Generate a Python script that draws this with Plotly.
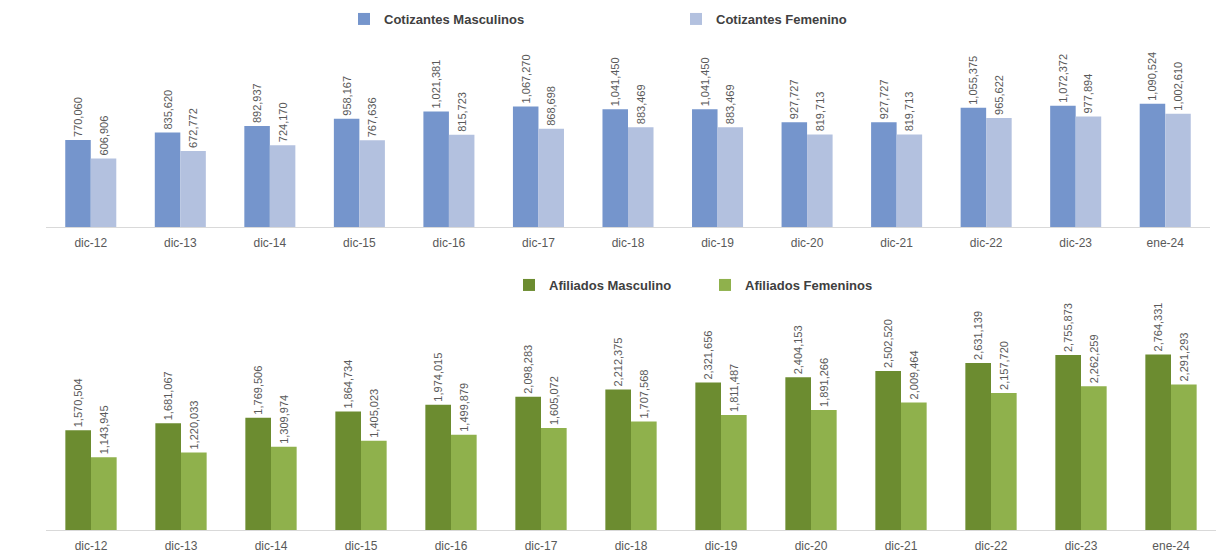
import plotly.graph_objects as go

categories = ["dic-12", "dic-13", "dic-14", "dic-15", "dic-16", "dic-17", "dic-18",
              "dic-19", "dic-20", "dic-21", "dic-22", "dic-23", "ene-24"]

cotizantes_masculinos = [770060, 835620, 892937, 958167, 1021381, 1067270, 1041450,
                         1041450, 927727, 927727, 1055375, 1072372, 1090524]
cotizantes_femenino = [606906, 672772, 724170, 767636, 815723, 868698, 883469,
                       883469, 819713, 819713, 965622, 977894, 1002610]

afiliados_masculino = [1570504, 1681067, 1769506, 1864734, 1974015, 2098283, 2212375,
                       2321656, 2404153, 2502520, 2631139, 2755873, 2764331]
afiliados_femeninos = [1143945, 1220033, 1309974, 1405023, 1499879, 1605072, 1707568,
                       1811487, 1891266, 2009464, 2157720, 2262259, 2291293]

W, H = 1231, 555
FONT = "Liberation Sans, Arial, sans-serif"
LBL = "#595959"


def px_x(px):
    return px / W


def px_y(py):
    return 1 - py / H


def fmt(v):
    return f"{v:,}"


fig = go.Figure()

series = [
    ("Cotizantes Masculinos", cotizantes_masculinos, "#7595CC", "x", "y", "legend"),
    ("Cotizantes Femenino", cotizantes_femenino, "#B3C1DF", "x", "y", "legend2"),
    ("Afiliados Masculino", afiliados_masculino, "#6C8C30", "x2", "y2", "legend3"),
    ("Afiliados Femeninos", afiliados_femeninos, "#8FB14C", "x2", "y2", "legend4"),
]

for name, vals, color, xa, ya, lg in series:
    fig.add_trace(go.Bar(
        name=name, x=categories, y=vals, xaxis=xa, yaxis=ya, legend=lg,
        marker=dict(color=color, line=dict(width=0)),
        text=[fmt(v) for v in vals], textposition="outside", textangle=-90,
        textfont=dict(family=FONT, size=11, color=LBL),
        constraintext="none", cliponaxis=False,
        hovertemplate="%{x}: %{y:,}<extra>" + name + "</extra>",
    ))

legend_common = dict(
    orientation="h", xanchor="left", yanchor="middle",
    bgcolor="rgba(0,0,0,0)", borderwidth=0,
    font=dict(family=FONT, size=13, color="#404040", weight="bold"),
    itemwidth=30,
)

axis_common = dict(showline=True, linecolor="#D9D9D9", linewidth=1, ticks="",
                   showgrid=False, tickfont=dict(family=FONT, size=12, color=LBL),
                   ticklabelstandoff=5, automargin=False)

fig.update_layout(
    width=W, height=H,
    paper_bgcolor="white", plot_bgcolor="white",
    margin=dict(l=0, r=0, t=0, b=0, pad=0),
    barmode="group", bargap=0.43, bargroupgap=0,
    showlegend=True,
    legend=dict(x=px_x(344), y=px_y(19), **legend_common),
    legend2=dict(x=px_x(676), y=px_y(19), **legend_common),
    legend3=dict(x=px_x(509), y=px_y(285), **legend_common),
    legend4=dict(x=px_x(705), y=px_y(285), **legend_common),
    xaxis=dict(domain=[px_x(46), px_x(1210)], anchor="y", **axis_common),
    yaxis=dict(domain=[px_y(227), px_y(40)], range=[0, 1655000],
               visible=False, showgrid=False, zeroline=False),
    xaxis2=dict(domain=[px_x(46), px_x(1216)], anchor="y2", **axis_common),
    yaxis2=dict(domain=[px_y(530), px_y(300)], range=[0, 3622000],
                visible=False, showgrid=False, zeroline=False),
)

fig.write_html(
    "out.html",
    config={"displayModeBar": False},
    post_script="document.body.style.margin='0px';document.body.style.overflow='hidden';",
)
